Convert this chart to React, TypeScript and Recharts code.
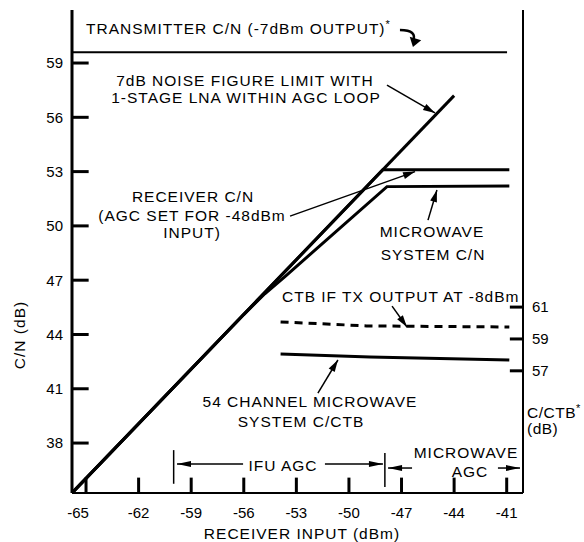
import React from 'react';
import { LineChart, Line, XAxis, YAxis, ReferenceLine } from 'recharts';

const FONT = '"Liberation Sans", Arial, Helvetica, sans-serif';

// Tick labels
const inputTicks = [-65, -62, -59, -56, -53, -50, -47, -44, -41];
const cnTicks = [38, 41, 44, 47, 50, 53, 56, 59];
const ctbTicks = [57, 59, 61];

// Axis domains
const xDomain = [-65.8, -40.07];
const cnDomain = [35.24, 61.93];
const ctbDomain = [49.33, 79.65];

// Series (receiver input dBm -> dB)
const transmitterX = [-65.8, -40.98];
const transmitterCN = [59.6, 59.6];

const noiseLimitX = [-65.8, -44.0];
const noiseLimitCN = [35.24, 57.2];

const receiverX = [-65.8, -48.07, -40.85];
const receiverCN = [35.24, 53.1, 53.1];

const microwaveX = [-65.8, -56.0, -54.8, -53.65, -47.83, -40.85];
const microwaveCN = [35.24, 45.1, 46.25, 47.2, 52.17, 52.2];

const ctbTxX = [-53.9, -49.0, -40.85];
const ctbTxCTB = [60.07, 59.82, 59.75];

const ctb54X = [-53.9, -48.8, -40.85];
const ctb54CTB = [58.06, 57.87, 57.68];

// Annotation arrows: [tailX, tailY, tipX, tipY] in data units (left axis)
const transmitterArrow = [-47.09, 60.82, -46.35, 59.88];
const noiseArrow = [-47.83, 57.78, -45.09, 56.24];
const receiverArrow = [-53.36, 50.54, -46.23, 53.0];
const microwaveArrow = [-45.49, 50.32, -44.98, 51.98];
const ctbTxArrow = [-47.54, 45.57, -46.69, 44.41];
const ctb54Arrow = [-51.77, 40.76, -50.63, 42.59];
const ifuLeftArrow = [-56.04, 36.84, -59.81, 36.84];
const ifuRightArrow = [-51.37, 36.84, -48.06, 36.84];
const mwLeftArrow = [-46.4, 36.62, -47.77, 36.62];
const mwRightArrow = [-41.5, 36.62, -40.24, 36.62];
// AGC range bars: [x, yTop, yBottom]
const agcBars = [
  [-60.0, 37.61, 35.75],
  [-47.95, 37.45, 35.57],
];

// inward tick mark lengths, in data units
const xTickLen = 0.85;
const cnTickLen = 0.95;
const ctbTickLen = 0.75;
const edgeInset = 0.05;

const pts = (xs: number[], ys: number[]) => xs.map((x, i) => ({ x, y: ys[i] }));

const arrowShape = (curved: boolean, head: number, half: number, width: number) => (p: any) => {
  const { x1, y1, x2, y2 } = p;
  let d: string;
  let dx: number;
  let dy: number;
  if (curved) {
    const cx = x2 + 5;
    const cy = y1;
    d = `M${x1},${y1} Q${cx},${cy} ${x2},${y2 - head * 0.6}`;
    dx = x2 - cx;
    dy = y2 - cy;
  } else {
    d = `M${x1},${y1} L${x2},${y2}`;
    dx = x2 - x1;
    dy = y2 - y1;
  }
  const len = Math.hypot(dx, dy) || 1;
  const ux = dx / len;
  const uy = dy / len;
  const bx = x2 - ux * head;
  const by = y2 - uy * head;
  const poly = `${x2},${y2} ${bx - uy * half},${by + ux * half} ${bx + uy * half},${by - ux * half}`;
  return (
    <g>
      <path d={d} stroke="#000" strokeWidth={width} fill="none" />
      <polygon points={poly} fill="#000" />
    </g>
  );
};

const plainShape = (width: number, color = '#000') => (p: any) => (
  <line x1={p.x1} y1={p.y1} x2={p.x2} y2={p.y2} stroke={color} strokeWidth={width} />
);

const BottomTick = (props: any) => {
  const { x, y, payload } = props;
  return (
    <text x={x} y={y} dy="0.71em" dx={payload.value === -65 ? -8 : 0} textAnchor="middle"
      fontFamily={FONT} fontSize={15} fill="#000">{payload.value}</text>
  );
};

const LeftTick = (props: any) => {
  const { x, y, payload } = props;
  return (
    <text x={x} y={y} dy="0.36em" textAnchor="end" fontFamily={FONT} fontSize={15} fill="#000">{payload.value}</text>
  );
};

const RightTick = (props: any) => {
  const { x, y, payload } = props;
  return (
    <text x={x} y={y} dy="0.36em" textAnchor="start" fontFamily={FONT} fontSize={15} fill="#000">{payload.value}</text>
  );
};

const seg = (a: number[]) => [{ x: a[0], y: a[1] }, { x: a[2], y: a[3] }];

const textStyle: React.CSSProperties = { fontFamily: FONT, fontSize: 15.5, letterSpacing: 1, fill: '#000' };

export default function App() {
  const arrows: [number[], boolean, number, number, number][] = [
    [transmitterArrow, true, 9, 6, 2.5],
    [noiseArrow, false, 12, 3.5, 1.5],
    [receiverArrow, false, 12, 3.5, 1.5],
    [microwaveArrow, false, 12, 3.5, 1.5],
    [ctbTxArrow, false, 12, 3.5, 1.5],
    [ctb54Arrow, false, 12, 3.5, 1.5],
    [ifuLeftArrow, false, 14, 3, 1.5],
    [ifuRightArrow, false, 14, 3, 1.5],
    [mwLeftArrow, false, 14, 3, 1.5],
    [mwRightArrow, false, 14, 3, 1.5],
  ];
  return (
    <div style={{ position: 'absolute', left: 0, top: 0, width: 584, height: 542, background: '#fff' }}>
      <LineChart width={584} height={542} margin={{ top: 10, right: 0, bottom: 0, left: 0 }}>
        <XAxis
          type="number"
          dataKey="x"
          domain={xDomain}
          allowDataOverflow
          ticks={inputTicks}
          interval={0}
          height={49}
          tickSize={0}
          tickMargin={14}
          tickLine={false}
          axisLine={{ stroke: '#000', strokeWidth: 2 }}
          tick={<BottomTick />}
        />
        <YAxis
          yAxisId="left"
          type="number"
          domain={cnDomain}
          allowDataOverflow
          ticks={cnTicks}
          interval={0}
          width={72}
          tickSize={0}
          tickMargin={9}
          tickLine={false}
          axisLine={{ stroke: '#000', strokeWidth: 3 }}
          tick={<LeftTick />}
        />
        <YAxis
          yAxisId="right"
          orientation="right"
          type="number"
          domain={ctbDomain}
          allowDataOverflow
          ticks={ctbTicks}
          interval={0}
          width={61}
          tickSize={0}
          tickMargin={9}
          tickLine={false}
          axisLine={{ stroke: '#000', strokeWidth: 2 }}
          tick={<RightTick />}
        />
        {inputTicks.map((v) => (
          <ReferenceLine key={`xt${v}`} yAxisId="left" ifOverflow="visible"
            segment={[{ x: v, y: cnDomain[0] + edgeInset }, { x: v, y: cnDomain[0] + xTickLen }]} shape={plainShape(3)} />
        ))}
        {cnTicks.map((v) => (
          <ReferenceLine key={`yt${v}`} yAxisId="left" ifOverflow="visible"
            segment={[{ x: xDomain[0] + edgeInset, y: v }, { x: xDomain[0] + cnTickLen, y: v }]} shape={plainShape(3)} />
        ))}
        {ctbTicks.map((v) => (
          <ReferenceLine key={`rt${v}`} yAxisId="right" ifOverflow="visible"
            segment={[{ x: xDomain[1] - edgeInset, y: v }, { x: xDomain[1] - ctbTickLen, y: v }]} shape={plainShape(3)} />
        ))}
        <Line yAxisId="left" data={pts(transmitterX, transmitterCN)} dataKey="y" stroke="#000" strokeWidth={2} dot={false} isAnimationActive={false} />
        <Line yAxisId="left" data={pts(noiseLimitX, noiseLimitCN)} dataKey="y" stroke="#000" strokeWidth={3} dot={false} isAnimationActive={false} />
        <Line yAxisId="left" data={pts(receiverX, receiverCN)} dataKey="y" stroke="#000" strokeWidth={3} dot={false} isAnimationActive={false} />
        <Line yAxisId="left" data={pts(microwaveX, microwaveCN)} dataKey="y" stroke="#000" strokeWidth={3} dot={false} isAnimationActive={false} />
        <Line yAxisId="right" data={pts(ctbTxX, ctbTxCTB)} dataKey="y" stroke="#000" strokeWidth={3} strokeDasharray="8 6" dot={false} isAnimationActive={false} />
        <Line yAxisId="right" data={pts(ctb54X, ctb54CTB)} dataKey="y" stroke="#000" strokeWidth={3} dot={false} isAnimationActive={false} />
        {arrows.map(([a, curved, head, half, w], i) => (
          <ReferenceLine key={`a${i}`} yAxisId="left" segment={seg(a)} shape={arrowShape(curved, head, half, w)} />
        ))}
        {agcBars.map((b, i) => (
          <ReferenceLine key={`b${i}`} yAxisId="left" segment={[{ x: b[0], y: b[1] }, { x: b[0], y: b[2] }]} shape={plainShape(1.5)} />
        ))}
      </LineChart>
      <svg width={584} height={542} style={{ position: 'absolute', left: 0, top: 0, pointerEvents: 'none' }}>
        <text x={86} y={34} style={textStyle}>
          TRANSMITTER C/N (-7dBm OUTPUT)<tspan dy={-6} fontSize={11}>*</tspan>
        </text>
        <text x={245} y={86} textAnchor="middle" style={textStyle}>7dB NOISE FIGURE LIMIT WITH</text>
        <text x={246} y={103} textAnchor="middle" style={textStyle}>1-STAGE LNA WITHIN AGC LOOP</text>
        <text x={193} y={202} textAnchor="middle" style={textStyle}>RECEIVER C/N</text>
        <text x={192} y={221} textAnchor="middle" style={textStyle}>(AGC SET FOR -48dBm</text>
        <text x={192} y={238} textAnchor="middle" style={textStyle}>INPUT)</text>
        <text x={432} y={237} textAnchor="middle" style={textStyle}>MICROWAVE</text>
        <text x={433} y={260} textAnchor="middle" style={textStyle}>SYSTEM C/N</text>
        <text x={282} y={302} style={textStyle}>CTB IF TX OUTPUT AT -8dBm</text>
        <text x={310} y={407} textAnchor="middle" style={textStyle}>54 CHANNEL MICROWAVE</text>
        <text x={301} y={427} textAnchor="middle" style={textStyle}>SYSTEM C/CTB</text>
        <text x={283} y={471} textAnchor="middle" style={textStyle}>IFU AGC</text>
        <text x={466} y={458} textAnchor="middle" style={textStyle}>MICROWAVE</text>
        <text x={470} y={477} textAnchor="middle" style={textStyle}>AGC</text>
        <text x={527} y={418} style={{ ...textStyle, letterSpacing: 0.5 }}>
          C/CTB<tspan dy={-6} fontSize={11}>*</tspan>
        </text>
        <text x={527} y={434} style={{ ...textStyle, letterSpacing: 0.5 }}>(dB)</text>
        <text x={302} y={539} textAnchor="middle" style={textStyle}>RECEIVER INPUT (dBm)</text>
        <text x={25} y={335} textAnchor="middle" transform="rotate(-90 25 335)" style={textStyle}>C/N (dB)</text>
      </svg>
    </div>
  );
}
